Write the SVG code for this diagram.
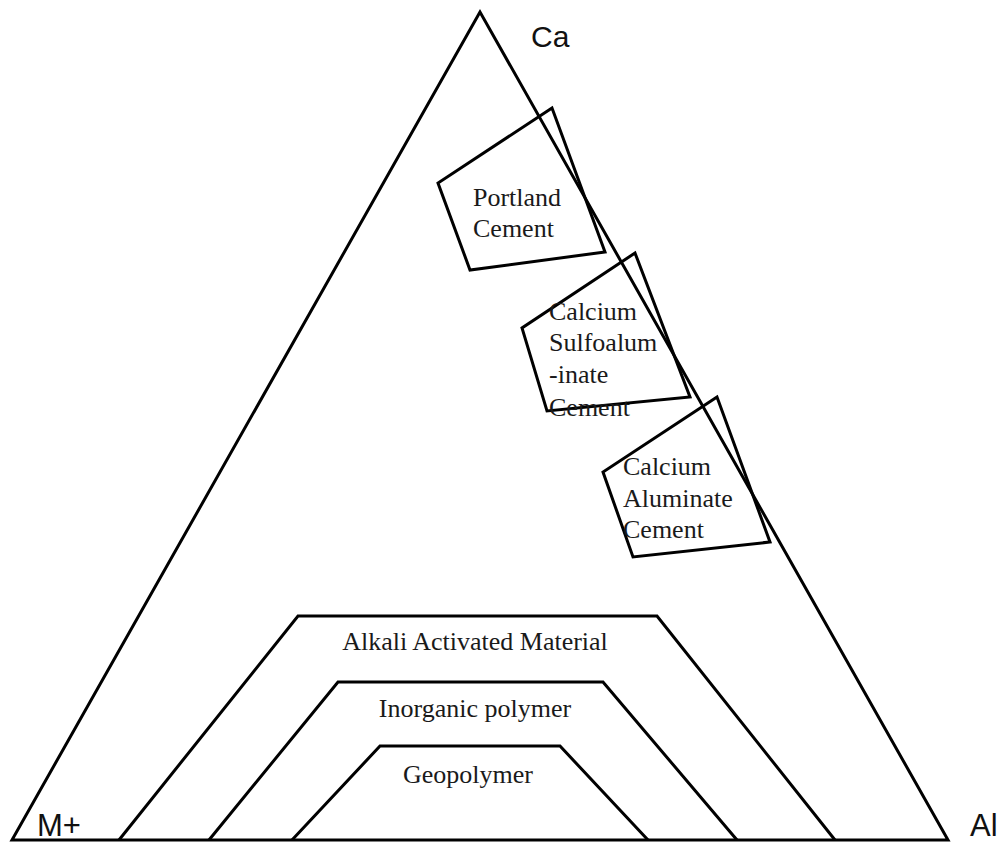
<svg xmlns="http://www.w3.org/2000/svg" width="1000" height="843" viewBox="0 0 1000 843">
<style>
.ln{fill:none;stroke:#000;stroke-width:3;stroke-linejoin:miter}
.sf{font-family:"Liberation Serif","Times New Roman",serif;font-size:26px;fill:#1a1a1a}
.ss{font-family:"Liberation Sans",Arial,sans-serif;font-size:30px;fill:#111}
</style>
<rect width="1000" height="843" fill="#fff"/>
<g id="triangle">
<polygon class="ln" points="480,12 12,840 948,840"/>
</g>
<g id="labels">
<text class="ss" x="531" y="47">Ca</text>
<text class="ss" x="37" y="836" style="font-size:31px">M+</text>
<text class="ss" x="970" y="836" style="font-size:31px">Al</text>
</g>
<g id="portland">
<polygon class="ln" points="552,108 438,183 470,270 605,252"/>
<text class="sf" x="473" y="206">Portland</text>
<text class="sf" x="473" y="237">Cement</text>
</g>
<g id="csa">
<polygon class="ln" points="635,253 522,328 547,411 690,397"/>
<text class="sf" x="549" y="320">Calcium</text>
<text class="sf" x="549" y="351">Sulfoalum</text>
<text class="sf" x="549" y="383">-inate</text>
<text class="sf" x="549" y="416">Cement</text>
</g>
<g id="cac">
<polygon class="ln" points="717,397 603,472 633,557 770,542"/>
<text class="sf" x="623" y="475">Calcium</text>
<text class="sf" x="623" y="507">Aluminate</text>
<text class="sf" x="623" y="538">Cement</text>
</g>
<g id="aam">
<polyline class="ln" points="119,840 298,616 657,616 835,840"/>
<text class="sf" x="475" y="650" text-anchor="middle">Alkali Activated Material</text>
</g>
<g id="inorganic">
<polyline class="ln" points="209,840 338,682 603,682 737,840"/>
<text class="sf" x="475" y="717" text-anchor="middle">Inorganic polymer</text>
</g>
<g id="geopolymer">
<polyline class="ln" points="292,840 380,746 560,746 648,840"/>
<text class="sf" x="468" y="783" text-anchor="middle">Geopolymer</text>
</g>
</svg>
